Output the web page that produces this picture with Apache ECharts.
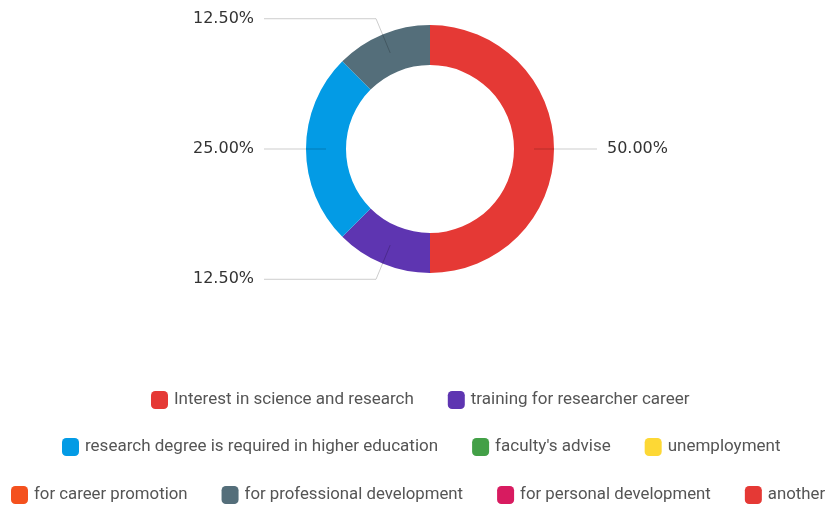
<!DOCTYPE html>
<html><head><meta charset="utf-8">
<script src="https://cdn.jsdelivr.net/npm/echarts@6/dist/echarts.min.js"></script>
<style>html,body{margin:0;padding:0;background:#fff}#c{width:831px;height:506px}</style>
</head><body><div id="c"></div>
<script>
const categories = ["Interest in science and research","training for researcher career","research degree is required in higher education","faculty's advise","unemployment","for career promotion","for professional development","for personal development","another"];
const values = [4, 1, 2, 0, 0, 0, 1, 0, 0];
const colors = ["#E53935","#5E35B1","#039BE5","#43A047","#FDD835","#F4511E","#546E7A","#D81B60","#E53935"];
const legendRows = [[0,1],[2,3,4],[5,6,7,8]];
const legendTops = [391, 438, 486];
const legendLefts = [151, 62, 11];
const legendFont = [17, 17, 16.8];

const chart = echarts.init(document.getElementById('c'));
const visData = categories.map((n,i)=>({name:n, value:values[i], itemStyle:{color:colors[i]}}));
const lblData = categories.map((n,i)=>({name:n, value:values[i], label:{show:values[i]>0}, labelLine:{show:values[i]>0}}));
const legends = legendRows.map((row,k)=>({
  data: row.map(i=>categories[i]),
  top: legendTops[k], left: legendLefts[k], width: 831, padding: 0,
  icon: 'roundRect', itemWidth: 17, itemHeight: 18, itemGap: 34,
  textStyle: {fontFamily: 'Roboto', fontSize: legendFont[k], color: '#555', padding:[0,0,0,1]},
  selectedMode: false
}));
chart.setOption({
  animation: false,
  color: colors,
  legend: legends,
  series: [
    {type:'pie', center:[430,149], radius:[84,124], startAngle:90, clockwise:true,
     silent:true, label:{show:false}, labelLine:{show:false}, data: visData},
    {type:'pie', z:5, left:193, top:0, width:475, height:506, center:[237,149], radius:[0,104], startAngle:90, clockwise:true,
     silent:true, itemStyle:{color:'rgba(0,0,0,0)'},
     label:{show:true, position:'outside', alignTo:'edge', edgeDistance:0, distanceToLabelLine:10,
       formatter: p => p.percent.toFixed(2) + '%', padding:[3,0,0,0],
       fontFamily:'DejaVu Sans', fontSize:16, color:'#333'},
     labelLine:{show:true, length:37, length2:10, lineStyle:{color:'rgba(0,0,0,0.2)', width:1}},
     data: lblData}
  ]
});
</script></body></html>
